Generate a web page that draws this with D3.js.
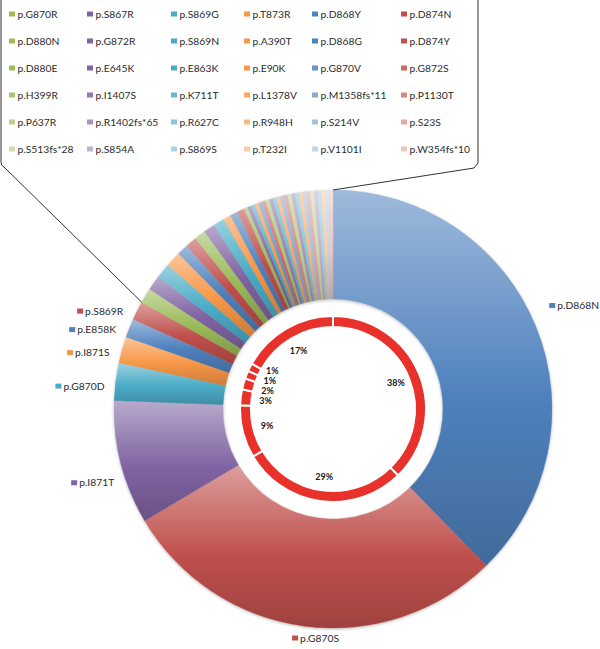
<!DOCTYPE html>
<html>
<head>
<meta charset="utf-8">
<script src="https://cdn.jsdelivr.net/npm/d3@7"></script>
<style>
  body { margin: 0; background: #fff; }
  text { font-family: Lato, "Open Sans", sans-serif; }
</style>
</head>
<body>
<script>
var w = 600;
var h = 649;
var cx = 333, cy = 409;
var rOuter = 219, rInner = 110;     // outer doughnut (every mutation)
var rRedOut = 93, rRedIn = 82;      // inner red ring (groups)

// mutations, in drawing order (clockwise from 12 o'clock)
var mutations = ["p.D868N", "p.G870S", "p.I871T", "p.G870D", "p.I871S", "p.E858K", "p.S869R",
	"p.G870R", "p.S867R", "p.S869G", "p.T873R",
	"p.D868Y", "p.D874N", "p.D880N", "p.G872R", "p.S869N",
	"p.A390T", "p.D868G", "p.D874Y",
	"p.D880E", "p.E645K", "p.E863K", "p.E90K", "p.G870V", "p.G872S", "p.H399R", "p.I1407S",
	"p.K711T", "p.L1378V", "p.M1358fs*11", "p.P1130T", "p.P637R", "p.R1402fs*65", "p.R627C",
	"p.R948H", "p.S214V", "p.S23S", "p.S513fs*28", "p.S854A", "p.S869S", "p.T232I",
	"p.V1101I", "p.W354fs*10"];

// case counts
var counts = [136, 104, 33, 10, 7, 5, 5,
	4, 4, 4, 4,
	3, 3, 3, 3, 3,
	2, 2, 2,
	1, 1, 1, 1, 1, 1, 1, 1,
	1, 1, 1, 1, 1, 1, 1,
	1, 1, 1, 1, 1, 1, 1,
	1, 1];

// how many of the mutations get their own label / inner ring segment
var nMain = 7;

var total = d3.sum(counts);
var innerCounts = counts.slice(0, nMain).concat([d3.sum(counts.slice(nMain))]);

// Office 2007 accent colours, lighter for every further round
var accents = ["#4F81BD", "#C0504D", "#9BBB59", "#8064A2", "#4BACC6", "#F79646"];
var tints = [0, 0, 0, 0, 0.15, 0.32, 0.5, 0.66];
function colorOf(i) {
	var slot = i < 2 ? i : i + 1;   // third palette slot is not used in this chart
	var base = accents[slot % 6];
	return d3.interpolateRgb(base, "#fff")(tints[Math.floor(slot / 6)]);
}

var fontSize = 10.3;
var textColor = "#2b2b2b";

var svg = d3.select("body")
	.append("svg")
	.attr("width", w)
	.attr("height", h);

var defs = svg.append("defs");

var shadow = defs.append("filter")
	.attr("id", "shadow")
	.attr("x", "-10%").attr("y", "-10%")
	.attr("width", "120%").attr("height", "120%");
shadow.append("feDropShadow")
	.attr("dx", 0).attr("dy", 1)
	.attr("stdDeviation", 1.6)
	.attr("flood-color", "#000")
	.attr("flood-opacity", 0.28);

// one vertical gradient per slice
mutations.forEach(function(m, i) {
	var c = colorOf(i);
	var g = defs.append("linearGradient")
		.attr("id", "grad" + i)
		.attr("x1", 0).attr("y1", 0)
		.attr("x2", 0).attr("y2", 1);
	g.append("stop").attr("offset", "0%").attr("stop-color", d3.interpolateRgb(c, "#fff")(0.45));
	g.append("stop").attr("offset", "55%").attr("stop-color", c);
	g.append("stop").attr("offset", "100%").attr("stop-color", d3.rgb(c).darker(0.55));
});

var pie = d3.pie()
	.sort(null)
	.value(function(d) { return d; });

var outerArcs = pie(counts);
var innerArcs = pie(innerCounts);

var arcOuter = d3.arc().innerRadius(rInner).outerRadius(rOuter);
var arcRed = d3.arc().innerRadius(rRedIn).outerRadius(rRedOut);

var chart = svg.append("g")
	.attr("transform", "translate(" + cx + "," + cy + ")");

//Outer doughnut
chart.append("g")
	.attr("filter", "url(#shadow)")
	.selectAll("path")
	.data(outerArcs)
	.enter()
	.append("path")
	.attr("d", arcOuter)
	.attr("fill", function(d, i) { return "url(#grad" + i + ")"; })
	.attr("stroke", function(d, i) { return "url(#grad" + i + ")"; })
	.attr("stroke-width", 0.4);

//Inner red ring
chart.append("g")
	.selectAll("path")
	.data(innerArcs)
	.enter()
	.append("path")
	.attr("d", arcRed)
	.attr("fill", "#e8312b")
	.attr("stroke", "#fff")
	.attr("stroke-width", 2);

// percentage labels, pushed apart where the slices are thin
var pct = d3.format(".0%");
var pctGap = 10;
var pctPos = innerArcs.map(function(d) {
	var a = (d.startAngle + d.endAngle) / 2;
	return { text: pct(d.value / total), x: 68 * Math.sin(a), y: -68 * Math.cos(a), a: a };
});
// left side: going clockwise the labels climb, keep them apart
for (var k = 1; k < pctPos.length - 2; k++) {
	if (pctPos[k].a > Math.PI && pctPos[k + 1].y > pctPos[k].y - pctGap) {
		pctPos[k + 1].y = pctPos[k].y - pctGap;
	}
}

chart.append("g")
	.selectAll("text")
	.data(pctPos)
	.enter()
	.append("text")
	.attr("x", function(d) { return d.x; })
	.attr("y", function(d) { return d.y; })
	.attr("text-anchor", "middle")
	.attr("dy", "0.35em")
	.attr("font-size", 9)
	.attr("font-weight", "bold")
	.attr("fill", "#1a1a1a")
	.text(function(d) { return d.text; });

//Labels of the main mutations, with legend key
var lblR = 229, shift = 3 * Math.PI / 180;
outerArcs.slice(0, nMain).forEach(function(d, i) {
	var a = (d.startAngle + d.endAngle) / 2 - shift;
	var px = cx + lblR * Math.sin(a);
	var py = cy - lblR * Math.cos(a);
	var ty = Math.cos(a) > 0 ? py - 6 : Math.min(py + 6, h - 11);

	var g = svg.append("g");
	var t = g.append("text")
		.attr("y", ty)
		.attr("dy", "0.35em")
		.attr("font-size", fontSize)
		.attr("fill", textColor)
		.text(mutations[i]);
	var tw = t.node().getComputedTextLength();
	var left;
	if (Math.sin(a) > 0.3) left = px + 8;
	else if (Math.sin(a) < -0.3) left = px - tw - 9;
	else left = px - (tw + 9) / 2;
	t.attr("x", left + 9);
	g.append("rect")
		.attr("x", left + 1)
		.attr("y", ty - 2.5)
		.attr("width", 6)
		.attr("height", 5)
		.attr("fill", colorOf(i));
});

//Callout box holding the legend of the small mutations
var a0 = outerArcs[nMain].startAngle;
var a1 = outerArcs[outerArcs.length - 1].endAngle;
var p0 = [cx + rOuter * Math.sin(a0), cy - rOuter * Math.cos(a0)];
var p1 = [cx + rOuter * Math.sin(a1), cy - rOuter * Math.cos(a1)];

svg.append("path")
	.attr("d", "M1,0 V162 Q1,166 4,167 L" + p0[0] + "," + p0[1])
	.attr("fill", "none")
	.attr("stroke", "#333")
	.attr("stroke-width", 1);
svg.append("path")
	.attr("d", "M478,0 V163 L474,168 L" + p1[0] + "," + p1[1])
	.attr("fill", "none")
	.attr("stroke", "#333")
	.attr("stroke-width", 1);

var colX = [9, 87, 171, 244, 312, 401];
var legend = svg.append("g")
	.selectAll("g")
	.data(mutations.slice(nMain))
	.enter()
	.append("g")
	.attr("transform", function(d, i) {
		return "translate(" + colX[i % 6] + "," + (14 + 27 * Math.floor(i / 6)) + ")";
	});

legend.append("rect")
	.attr("x", 0)
	.attr("y", -2.5)
	.attr("width", 6)
	.attr("height", 5)
	.attr("fill", function(d, i) { return colorOf(i + nMain); });

legend.append("text")
	.attr("x", 8.5)
	.attr("dy", "0.35em")
	.attr("font-size", fontSize)
	.attr("fill", textColor)
	.text(function(d) { return d; });
</script>
</body>
</html>
